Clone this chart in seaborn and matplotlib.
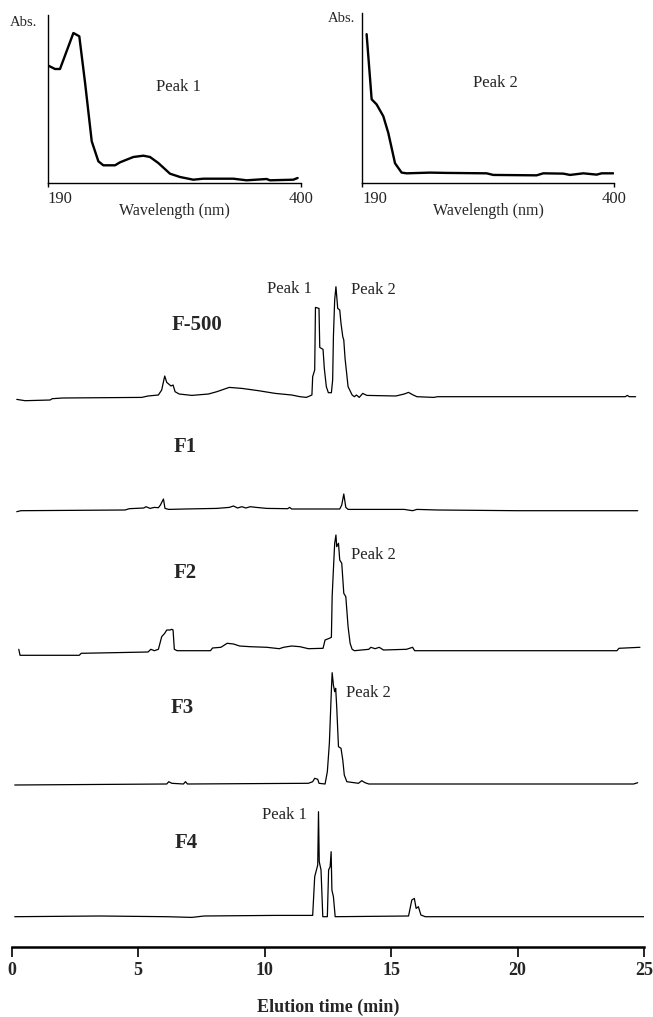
import numpy as np
import pandas as pd
import matplotlib
matplotlib.use("Agg")
import matplotlib.pyplot as plt
import seaborn as sns

sns.set_theme(style="white")
plt.rcParams['font.family'] = ['Liberation Serif', 'DejaVu Serif']

# ---------------- DATA ----------------
# UV spectra of the two peaks (wavelength nm, absorbance a.u.)
peak1_wl = [190.6, 196.1, 200.2, 211.3, 216.2, 221.0, 226.5, 232.0, 236.1, 245.8, 250.0,
            261.0, 269.3, 274.8, 281.7, 291.4, 299.7, 310.7, 319.0, 343.9, 354.9, 371.5,
            374.3, 393.6, 397.2]
peak1_abs = [117.3, 114, 114, 150, 146.7, 100, 41.7, 21.7, 17.7, 17.7, 20.7,
             26, 27.3, 26, 20, 9.3, 6, 3.3, 4.3, 4.3, 2.7, 4,
             2.7, 3.3, 5]
peak2_wl = [193.6, 197.8, 201.9, 207.5, 211.7, 217.3, 222.8, 227.0, 246.5, 260.4, 293.7,
            299.3, 335.4, 341.0, 357.7, 363.3, 374.4, 385.5, 389.7, 399.4]
peak2_abs = [147.3, 82.7, 77.7, 66, 49.3, 19.3, 10, 9.3, 10, 9.7, 9.3,
             7.7, 7.3, 9.3, 9, 7.7, 9.3, 8, 9.3, 9.3]

# Chromatograms (elution time min, absorbance a.u.)
f500_t = [0.20, 0.53, 1.52, 1.60, 2.01, 5.14, 5.39, 5.80, 5.93, 6.05, 6.13, 6.30, 6.38, 6.46,
          6.62, 7.12, 7.78, 8.11, 8.60, 9.10, 9.76, 10.42, 11.07, 11.40, 11.65, 11.87, 11.90,
          11.98, 12.01, 12.15, 12.18, 12.31, 12.36, 12.44, 12.52, 12.64, 12.69, 12.72, 12.77,
          12.82, 12.89, 12.97, 13.02, 13.09, 13.13, 13.18, 13.30, 13.46, 13.55, 13.63, 13.74,
          13.88, 14.04, 15.19, 15.52, 15.69, 15.85, 16.02, 16.68, 16.84, 24.26, 24.34, 24.42,
          24.67]
f500_a = [1.3, 0, 0.7, 2.0, 2.7, 3.3, 4.7, 5.7, 10.7, 24.7, 18.3, 14.7, 15.7, 9,
          6.7, 5.3, 6.7, 9, 13.3, 12.3, 10, 7.3, 5.7, 4, 3.3, 5.7, 24,
          30.7, 93.3, 92.3, 53.3, 51.3, 32.3, 14, 8, 8, 20.7, 64, 100.7,
          114, 92.3, 90.7, 77.3, 64, 60.7, 42.3, 14, 5.7, 4, 5.7, 3.3,
          7.3, 5.3, 4.7, 6.7, 8.3, 6, 4, 3.3, 4, 4, 5.3, 4,
          4]

f1_t = [0.20, 0.36, 4.48, 4.65, 5.22, 5.31, 5.47, 5.64, 5.80, 5.88, 6.00, 6.06, 6.21, 6.86,
        8.11, 8.60, 8.77, 8.93, 9.10, 9.26, 9.43, 9.67, 10.09, 10.91, 10.99, 11.07, 12.97,
        13.05, 13.13, 13.21, 13.30, 15.52, 15.85, 16.02, 16.84, 19.97, 24.75]
f1_a = [-1, 0, 0.7, 2, 2.7, 4, 2.3, 3.3, 3, 5.7, 11.7, 2.3, 1.3, 1.7,
        2.3, 3.3, 4.7, 2.7, 4, 2.7, 4, 3.3, 2.3, 2, 3.3, 1.7, 1.7,
        5.7, 16.7, 3.3, 1.3, 1.3, 0, 1.3, 0.7, 0, 0]

f2_t = [0.28, 0.33, 2.67, 2.75, 4.00, 5.39, 5.50, 5.64, 5.80, 5.93, 6.05, 6.13, 6.26, 6.33,
        6.38, 6.43, 6.54, 7.86, 7.94, 8.27, 8.52, 8.77, 9.01, 9.43, 10.09, 10.58, 10.75,
        11.07, 11.40, 11.73, 12.31, 12.39, 12.56, 12.64, 12.67, 12.72, 12.77, 12.82, 12.85,
        12.92, 12.97, 13.05, 13.13, 13.21, 13.30, 13.38, 13.46, 13.55, 14.12, 14.20, 14.37,
        14.53, 14.70, 15.61, 15.85, 15.93, 23.93, 24.01, 24.84]
f2_a = [6.7, 0.7, 0.7, 2.7, 3.3, 4, 6.7, 5.3, 6.7, 19.3, 22.7, 26, 26, 26.7,
        26, 6.7, 5.3, 5.3, 8, 8.7, 12.7, 12, 10, 9.3, 8.7, 7.3, 8.7,
        10, 9.3, 7.3, 7.7, 16, 17.7, 18.7, 59.3, 86.7, 112.7, 121, 109.3,
        112.7, 96, 92.7, 62.7, 59.3, 29.3, 12.7, 6.7, 5.3, 6.7, 8.7, 7.3,
        8.7, 6, 6.7, 8.7, 5.3, 5.3, 7.7, 8.7]

f3_t = [0.12, 6.13, 6.21, 6.33, 6.79, 6.87, 6.95, 11.73, 11.90, 11.98, 12.10, 12.15, 12.39,
        12.48, 12.56, 12.64, 12.67, 12.72, 12.77, 12.81, 12.85, 12.92, 13.02, 13.09, 13.15,
        13.25, 13.71, 13.84, 13.97, 14.12, 24.59, 24.75]
f3_a = [0, 1, 3.3, 1.7, 1, 3.3, 1, 1.7, 3.3, 6.7, 5.7, 1.7, 1,
        13.3, 41.7, 95, 112.3, 100, 93.3, 96.7, 78.3, 38.3, 36.7, 25, 10,
        3.3, 1.7, 4.3, 2.3, 1, 1, 2.3]

f4_t = [0.12, 3.49, 6.13, 7.12, 7.61, 10.42, 11.90, 11.98, 12.10, 12.13, 12.16, 12.23, 12.30,
        12.48, 12.53, 12.59, 12.63, 12.66, 12.72, 12.79, 15.69, 15.82, 15.92, 15.99, 16.08,
        16.18, 16.35, 25.0]
f4_a = [0, 0.7, 0, -0.7, 0.7, 1.3, 1.3, 40, 51.7, 105, 55, 46.7, 0,
        0, 46.7, 50, 65, 26.7, 20, 0, 0.7, 16.7, 18.3, 8.3, 10,
        1.7, 0, 0]

fraction_names = ["F-500", "F1", "F2", "F3", "F4"]
x_ticks = [0, 5, 10, 15, 20, 25]

# ---------------- LAYOUT ----------------
W, H = 653, 1017
fig = plt.figure(figsize=(W / 100, H / 100), dpi=100)

def fx(px):
    return px / W

def fy(py):
    return 1 - py / H

# vertical offsets of the stacked traces (layout, in axis units)
offsets = [546.3, 436.3, 291.0, 162.0, 30.3]
label_pos = [(7.33, 622), (6.86, 500), (6.86, 374), (6.74, 239), (6.9, 104)]

# ---- main chromatogram axes ----
ax = fig.add_axes([fx(11.7), fy(947), (644 - 11.7) / W, (947 - 270) / H])
traces = [(f500_t, f500_a), (f1_t, f1_a), (f2_t, f2_a), (f3_t, f3_a), (f4_t, f4_a)]
for (t, a), off, name in zip(traces, offsets, fraction_names):
    df = pd.DataFrame({"t": t, "a": np.array(a) + off})
    sns.lineplot(data=df, x="t", y="a", ax=ax, color="black", linewidth=0.9,
                 sort=False, estimator=None)
for (x, y), name in zip(label_pos, fraction_names):
    ax.text(x, y, name, ha="center", va="center", fontsize=15, fontweight="bold")

ax.text(11.85, 658, "Peak 1", ha="right", va="center", fontsize=12)
ax.text(13.4, 657, "Peak 2", ha="left", va="center", fontsize=12)
ax.text(13.43, 392, "Peak 2", ha="left", va="center", fontsize=12)
ax.text(13.2, 254, "Peak 2", ha="left", va="center", fontsize=12)
ax.text(11.66, 132, "Peak 1", ha="right", va="center", fontsize=12)

ax.set_xlim(0, 25)
ax.set_ylim(0, 677)
for s in ["left", "right", "top"]:
    ax.spines[s].set_visible(False)
ax.spines["bottom"].set_linewidth(1.8)
ax.spines["bottom"].set_color("black")
ax.set_yticks([])
ax.set_ylabel("")
ax.set_xticks(x_ticks)
ax.set_xticklabels([str(v) for v in x_ticks], fontsize=13, fontweight="bold")
ax.tick_params(axis="x", direction="out", length=7, width=1.2, color="black", pad=4, bottom=True)
ax.set_xlabel("Elution time (min)", fontsize=13, fontweight="bold", labelpad=14)

# ---- UV spectra insets ----
insets = [
    dict(rect=(47.7, 15, 301, 183), wl=peak1_wl, ab=peak1_abs, name="Peak 1",
         abs_xy=(24, 22), name_xy=(178, 87)),
    dict(rect=(362.3, 13.3, 614, 182.7), wl=peak2_wl, ab=peak2_abs, name="Peak 2",
         abs_xy=(342, 18), name_xy=(495, 83)),
]
for ins in insets:
    l, t, r, b = ins["rect"]
    iax = fig.add_axes([fx(l), fy(b), (r - l) / W, (b - t) / H])
    df = pd.DataFrame({"wl": ins["wl"], "ab": ins["ab"]})
    sns.lineplot(data=df, x="wl", y="ab", ax=iax, color="black", linewidth=1.7,
                 sort=False, estimator=None)
    iax.set_xlim(190, 400)
    iax.set_ylim(0, 168)
    iax.spines["top"].set_visible(False)
    iax.spines["right"].set_visible(False)
    for s in ["left", "bottom"]:
        iax.spines[s].set_linewidth(1.0)
        iax.spines[s].set_color("black")
    iax.set_yticks([])
    iax.set_ylabel("")
    iax.set_xticks([190, 400])
    iax.set_xticklabels(["190", "400"], fontsize=12)
    iax.get_xticklabels()[0].set_horizontalalignment("left")
    iax.tick_params(axis="x", direction="out", length=3, width=1, color="black", pad=3, bottom=True)
    iax.set_xlabel("Wavelength (nm)", fontsize=11.5, labelpad=-3)
    fig.text(fx(ins["abs_xy"][0]), fy(ins["abs_xy"][1]), "Abs.", ha="center", va="center", fontsize=10.5)
    fig.text(fx(ins["name_xy"][0]), fy(ins["name_xy"][1]), ins["name"], ha="center", va="center", fontsize=12)

fig.savefig("out.png", dpi=100)
